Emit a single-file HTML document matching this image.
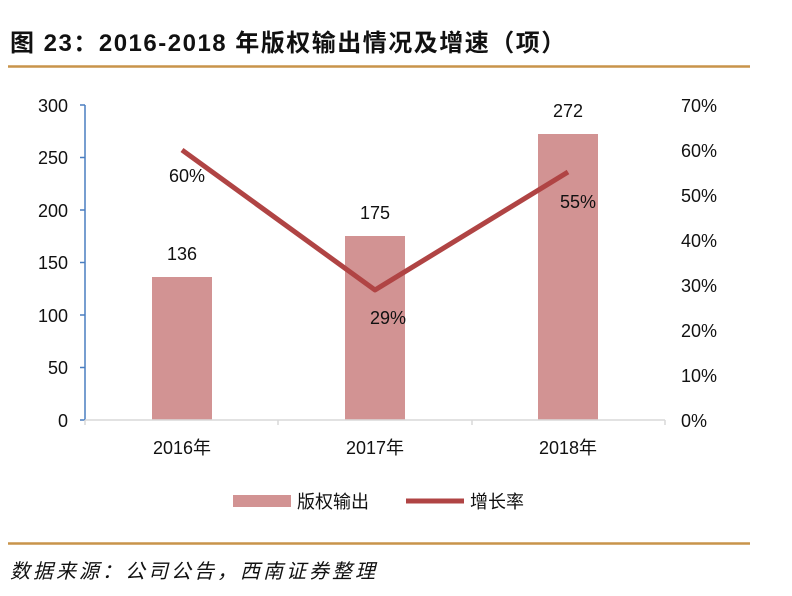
<!DOCTYPE html>
<html><head><meta charset="utf-8"><style>
body{margin:0;background:#fff;width:792px;height:596px;overflow:hidden}
svg{display:block}
</style></head><body>
<svg width="792" height="596" xmlns="http://www.w3.org/2000/svg" font-family="Liberation Sans, Noto Sans CJK SC, sans-serif">
<text x="10" y="51" font-size="24" font-weight="bold" fill="#111" letter-spacing="1.5">图 23：2016-2018 年版权输出情况及增速（项）</text>
<line x1="8" y1="66.5" x2="750" y2="66.5" stroke="#C8944A" stroke-width="2.5"/>
<g font-size="18" fill="#111">
<g text-anchor="end">
<text x="68" y="112">300</text><text x="68" y="164">250</text><text x="68" y="217">200</text><text x="68" y="269">150</text><text x="68" y="322">100</text><text x="68" y="374">50</text><text x="68" y="427">0</text>
</g>
<g text-anchor="start">
<text x="681" y="112">70%</text><text x="681" y="157">60%</text><text x="681" y="202">50%</text><text x="681" y="247">40%</text><text x="681" y="292">30%</text><text x="681" y="337">20%</text><text x="681" y="382">10%</text><text x="681" y="427">0%</text>
</g>
</g>
<g stroke="#4A7EC0" stroke-width="1.5">
<line x1="85" y1="105" x2="85" y2="420"/>
<line x1="80" y1="105" x2="85" y2="105"/><line x1="80" y1="157.5" x2="85" y2="157.5"/><line x1="80" y1="210" x2="85" y2="210"/><line x1="80" y1="262.5" x2="85" y2="262.5"/><line x1="80" y1="315" x2="85" y2="315"/><line x1="80" y1="367.5" x2="85" y2="367.5"/><line x1="80" y1="420" x2="85" y2="420"/>
</g>
<g fill="#D29393">
<rect x="152" y="277" width="60" height="143"/>
<rect x="345" y="236" width="60" height="184"/>
<rect x="538" y="134" width="60" height="286"/>
</g>
<g stroke="#D9D9D9" stroke-width="1.5">
<line x1="85" y1="420" x2="665" y2="420"/>
<line x1="85" y1="420" x2="85" y2="425"/><line x1="278" y1="420" x2="278" y2="425"/><line x1="472" y1="420" x2="472" y2="425"/><line x1="665" y1="420" x2="665" y2="425"/>
</g>
<polyline points="182,150 375,290 568,172" fill="none" stroke="#B04444" stroke-width="5" stroke-linejoin="round"/>
<g font-size="18" fill="#111" text-anchor="middle">
<text x="182" y="260">136</text><text x="375" y="219">175</text><text x="568" y="117">272</text>
<text x="187" y="182">60%</text><text x="388" y="324">29%</text><text x="578" y="208">55%</text>
<text x="182" y="454">2016年</text><text x="375" y="454">2017年</text><text x="568" y="454">2018年</text>
</g>
<rect x="233" y="495" width="58" height="12" fill="#D29393"/>
<text x="297" y="508" font-size="18" fill="#111">版权输出</text>
<line x1="406" y1="501" x2="464" y2="501" stroke="#B04444" stroke-width="5"/>
<text x="470" y="508" font-size="18" fill="#111">增长率</text>
<line x1="8" y1="543.5" x2="750" y2="543.5" stroke="#C8944A" stroke-width="2.5"/>
<text x="10" y="578" font-size="20" font-style="italic" fill="#111" letter-spacing="3">数据来源：公司公告，西南证券整理</text>
</svg>
</body></html>
